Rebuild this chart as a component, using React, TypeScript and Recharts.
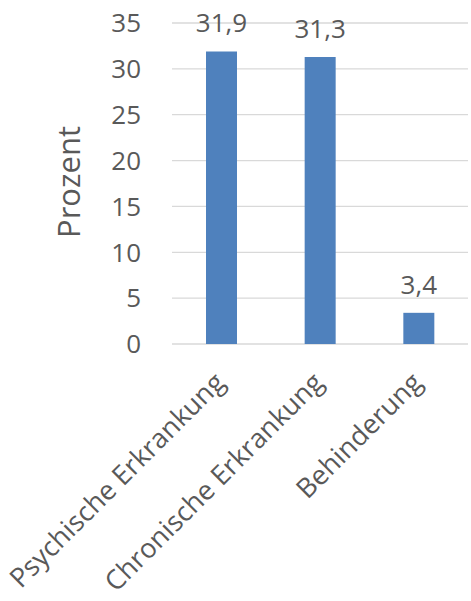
import React from 'react';
import { BarChart, Bar, XAxis, YAxis, CartesianGrid, LabelList, Label } from 'recharts';

// Share of respondents per condition, in percent
const categories = ['Psychische Erkrankung', 'Chronische Erkrankung', 'Behinderung'];
const values = [31.9, 31.3, 3.4];
const yTicks = [0, 5, 10, 15, 20, 25, 30, 35];

const data = categories.map((name, i) => ({ name, value: values[i] }));

const FONT = '"Open Sans", sans-serif';
const TEXT = '#595959';

const CategoryTick = (props: any) => {
  const { x, y, payload } = props;
  return (
    <g transform={`translate(${x + 5},${y + 32})`}>
      <text
        transform="rotate(-45)"
        textAnchor="end"
        fontFamily={FONT}
        fontSize={27}
        letterSpacing={0.1}
        fill={TEXT}
      >
        {payload.value}
      </text>
    </g>
  );
};

const ValueLabel = (props: any) => {
  const { x, y, width, value } = props;
  return (
    <text
      x={x + width / 2}
      y={y - 19}
      textAnchor="middle"
      fontFamily={FONT}
      fontSize={26}
      fill={TEXT}
    >
      {String(value).replace('.', ',')}
    </text>
  );
};

export default function App() {
  return (
    <div style={{ position: 'absolute', left: 0, top: 0 }}>
      <BarChart
        width={471}
        height={601}
        data={data}
        margin={{ top: 23, right: 3, left: 0, bottom: 0 }}
      >
        <CartesianGrid vertical={false} stroke="#d9d9d9" strokeWidth={1.3} />
        <XAxis
          dataKey="name"
          height={257}
          axisLine={false}
          tickLine={false}
          interval={0}
          tick={<CategoryTick />}
        />
        <YAxis
          width={172}
          domain={[0, 35]}
          ticks={yTicks}
          axisLine={false}
          tickLine={false}
          tickSize={0}
          tickMargin={31}
          tick={{ fontFamily: FONT, fontSize: 26, fill: TEXT }}
        >
          <Label
            content={() => (
              <text
                transform="translate(80,182) rotate(-90)"
                textAnchor="middle"
                fontFamily={FONT}
                fontSize={31}
                fill={TEXT}
              >
                Prozent
              </text>
            )}
          />
        </YAxis>
        <Bar dataKey="value" fill="#4f81bd" barSize={31} isAnimationActive={false}>
          <LabelList dataKey="value" content={<ValueLabel />} />
        </Bar>
      </BarChart>
    </div>
  );
}
